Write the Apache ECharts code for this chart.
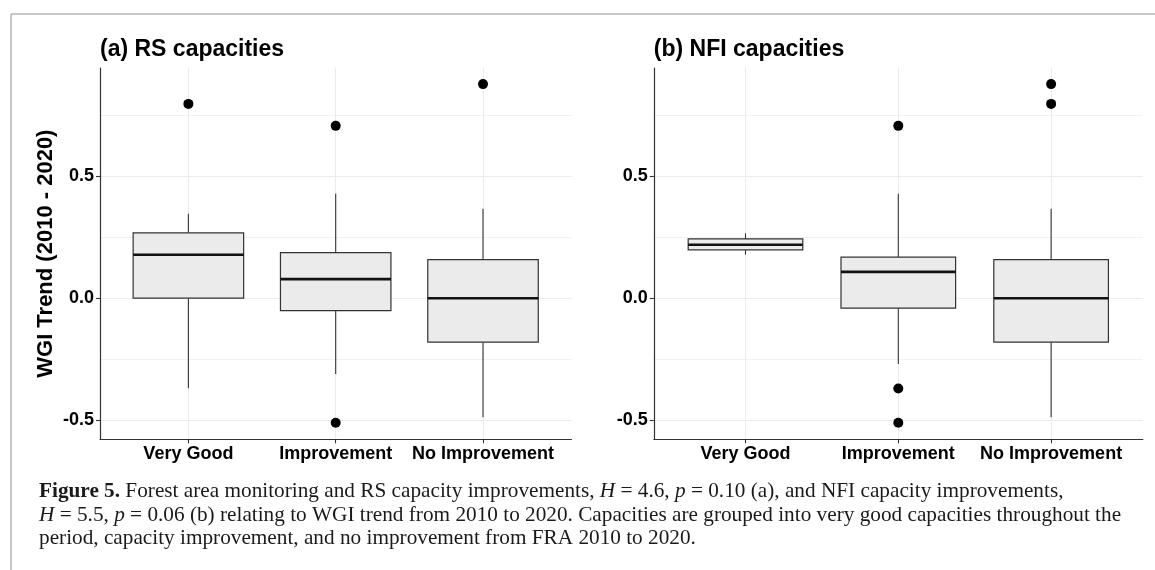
<!DOCTYPE html>
<html>
<head>
<meta charset="utf-8">
<script src="https://cdn.jsdelivr.net/npm/echarts@6/dist/echarts.min.js"></script>
<style>
  html, body { margin: 0; padding: 0; background: #ffffff; }
  #chart { width: 1155px; height: 570px; }
</style>
</head>
<body>
<div id="chart"></div>
<script>
// ---------------- data ----------------
const categories = ['Very Good', 'Improvement', 'No Improvement'];
const yMajorTicks = [-0.5, 0, 0.5];
const yMinorTicks = [-0.25, 0.25, 0.75];

// (a) RS capacities
const rsLower  = [-0.369, -0.311, -0.488];
const rsQ1     = [0.000, -0.051, -0.180];
const rsMedian = [0.178, 0.078, 0.000];
const rsQ3     = [0.268, 0.187, 0.158];
const rsUpper  = [0.346, 0.428, 0.366];
const rsOutlierCat = [0, 1, 1, 2];
const rsOutlierVal = [0.796, 0.706, -0.510, 0.877];

// (b) NFI capacities
const nfiLower  = [0.178, -0.270, -0.488];
const nfiQ1     = [0.198, -0.041, -0.180];
const nfiMedian = [0.219, 0.108, 0.000];
const nfiQ3     = [0.243, 0.168, 0.158];
const nfiUpper  = [0.266, 0.428, 0.366];
const nfiOutlierCat = [1, 1, 1, 2, 2];
const nfiOutlierVal = [0.706, -0.370, -0.510, 0.877, 0.796];

const panelTitles = ['(a) RS capacities', '(b) NFI capacities'];
const yTitle = 'WGI Trend (2010 - 2020)';

// ---------------- build ----------------
function boxData(lo, q1, med, q3, hi) {
  return categories.map((c, i) => [i + 1, lo[i], q1[i], med[i], q3[i], hi[i]]);
}
function outlierData(cats, vals) {
  return cats.map((c, i) => [c + 1, vals[i]]);
}

const AX = '#333333';
const GRIDC = '#ebebeb';
const FONT = '"Liberation Sans", Arial, Helvetica, sans-serif';
const SERIF = '"Liberation Serif", "Times New Roman", serif';

function renderBox(params, api) {
  const x = api.value(0);
  const lo = api.coord([x, api.value(1)]);
  const q1 = api.coord([x, api.value(2)]);
  const md = api.coord([x, api.value(3)]);
  const q3 = api.coord([x, api.value(4)]);
  const hi = api.coord([x, api.value(5)]);
  const w = api.size([0.75, 0])[0];
  return {
    type: 'group',
    children: [
      { type: 'line', shape: { x1: lo[0], y1: lo[1], x2: q1[0], y2: q1[1] },
        style: { stroke: AX, lineWidth: 1.1 } },
      { type: 'line', shape: { x1: q3[0], y1: q3[1], x2: hi[0], y2: hi[1] },
        style: { stroke: AX, lineWidth: 1.1 } },
      { type: 'rect', shape: { x: q3[0] - w / 2, y: q3[1], width: w, height: q1[1] - q3[1] },
        style: { fill: '#ebebeb', stroke: AX, lineWidth: 1.2 } },
      { type: 'line', shape: { x1: md[0] - w / 2, y1: md[1], x2: md[0] + w / 2, y2: md[1] },
        style: { stroke: '#111111', lineWidth: 2.6 } }
    ]
  };
}

const grids = [
  { left: 100, top: 68, width: 471.4, height: 371.3 },
  { left: 653.8, top: 68, width: 489, height: 371.3 }
];

const xAxes = [0, 1].map(g => ({
  type: 'value', gridIndex: g, min: 0.4, max: 3.6,
  axisLine: { show: true, onZero: false, lineStyle: { color: AX, width: 1.2 } },
  axisTick: { show: true, length: 4, customValues: [1, 2, 3], lineStyle: { color: AX, width: 1.1 } },
  axisLabel: { customValues: [1, 2, 3], margin: 6, color: '#000', fontFamily: FONT,
    fontWeight: 'bold', fontSize: 18,
    formatter: v => categories[Math.round(v) - 1] || '' },
  splitLine: { show: true, lineStyle: { color: GRIDC, width: 1 } }
}));

const yAxes = [];
[0, 1].forEach(g => {
  yAxes.push({
    type: 'value', gridIndex: g, min: -0.578, max: 0.943,
    name: g === 0 ? yTitle : '',
    nameLocation: 'middle', nameRotate: 90, nameGap: 43,
    nameTextStyle: { fontFamily: FONT, fontWeight: 'bold', fontSize: 22, color: '#000' },
    axisLine: { show: true, onZero: false, lineStyle: { color: AX, width: 1.2 } },
    axisTick: { show: true, length: 4, customValues: yMajorTicks, lineStyle: { color: AX, width: 1.1 } },
    axisLabel: { customValues: yMajorTicks, margin: 6, color: '#000', fontFamily: FONT,
      fontWeight: 'bold', fontSize: 18, formatter: v => v.toFixed(1) },
    splitLine: { show: true, lineStyle: { color: GRIDC, width: 1 } }
  });
});
[0, 1].forEach(g => {
  yAxes.push({
    type: 'value', gridIndex: g, min: -0.578, max: 0.943, position: 'left',
    axisLine: { show: false }, axisLabel: { show: false },
    axisTick: { show: false, customValues: yMinorTicks },
    splitLine: { show: true, lineStyle: { color: GRIDC, width: 0.7 } }
  });
});

const series = [
  { type: 'custom', xAxisIndex: 0, yAxisIndex: 0, renderItem: renderBox,
    data: boxData(rsLower, rsQ1, rsMedian, rsQ3, rsUpper), z: 3 },
  { type: 'scatter', xAxisIndex: 0, yAxisIndex: 0, symbolSize: 10,
    itemStyle: { color: '#000', opacity: 1 }, data: outlierData(rsOutlierCat, rsOutlierVal), z: 4 },
  { type: 'custom', xAxisIndex: 1, yAxisIndex: 1, renderItem: renderBox,
    data: boxData(nfiLower, nfiQ1, nfiMedian, nfiQ3, nfiUpper), z: 3 },
  { type: 'scatter', xAxisIndex: 1, yAxisIndex: 1, symbolSize: 10,
    itemStyle: { color: '#000', opacity: 1 }, data: outlierData(nfiOutlierCat, nfiOutlierVal), z: 4 }
];

const CF = 21.25;
const captionRich = {
  b: { fontFamily: SERIF, fontWeight: 'bold', fontSize: CF, fill: '#1a1a1a' },
  i: { fontFamily: SERIF, fontStyle: 'italic', fontSize: CF, fill: '#1a1a1a' },
  n: { fontFamily: SERIF, fontSize: CF, fill: '#1a1a1a' }
};
const captionLines = [
  '{b|Figure 5.}{n| Forest area monitoring and RS capacity improvements, }{i|H}{n| = 4.6, }{i|p}{n| = 0.10 (a), and NFI capacity improvements,}',
  '{i|H}{n| = 5.5, }{i|p}{n| = 0.06 (b) relating to WGI trend from 2010 to 2020. Capacities are grouped into very good capacities throughout the}',
  '{n|period, capacity improvement, and no improvement from FRA 2010 to 2020.}'
];

const graphics = [
  { type: 'line', shape: { x1: 11, y1: 14, x2: 1155, y2: 14 }, style: { stroke: '#b5b5b5', lineWidth: 1.5 }, silent: true },
  { type: 'line', shape: { x1: 11, y1: 14, x2: 11, y2: 570 }, style: { stroke: '#b5b5b5', lineWidth: 1.5 }, silent: true }
];
captionLines.forEach((t, i) => {
  graphics.push({
    type: 'text', left: 39, top: 481 + i * 23.5, silent: true,
    style: { text: t, rich: captionRich, fontFamily: SERIF, fontSize: CF, fill: '#1a1a1a' }
  });
});

const option = {
  animation: false,
  backgroundColor: '#ffffff',
  title: [
    { text: panelTitles[0], left: 100, top: 38, padding: 0,
      textStyle: { fontFamily: FONT, fontWeight: 'bold', fontSize: 23, color: '#000' } },
    { text: panelTitles[1], left: 653.8, top: 38, padding: 0,
      textStyle: { fontFamily: FONT, fontWeight: 'bold', fontSize: 23, color: '#000' } }
  ],
  grid: grids,
  xAxis: xAxes,
  yAxis: yAxes,
  series: series,
  graphic: graphics
};

const chart = echarts.init(document.getElementById('chart'), null, { renderer: 'canvas' });
chart.setOption(option);
</script>
</body>
</html>
